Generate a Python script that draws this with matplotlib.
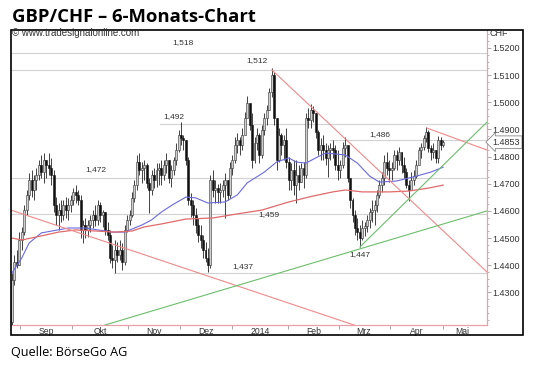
import matplotlib
matplotlib.use("Agg")
import matplotlib.pyplot as plt
import matplotlib.transforms as mtransforms
from matplotlib.patches import Rectangle
from matplotlib.ticker import MultipleLocator

# daily bars GBP/CHF (bar index = trading day)
first_open = 1.4190
high = [
    1.4372, 1.4438, 1.4456, 1.4522, 1.4541, 1.4622, 1.4677, 1.4740, 1.4751, 1.4732,
    1.4758, 1.4787, 1.4806, 1.4813, 1.4787, 1.4813, 1.4795, 1.4751, 1.4651, 1.4629,
    1.4640, 1.4640, 1.4651, 1.4648, 1.4659, 1.4684, 1.4695, 1.4677, 1.4659, 1.4567,
    1.4574, 1.4567, 1.4585, 1.4603, 1.4622, 1.4640, 1.4633, 1.4603, 1.4596, 1.4559,
    1.4530, 1.4475, 1.4493, 1.4486, 1.4493, 1.4482, 1.4548, 1.4585, 1.4603, 1.4670,
    1.4714, 1.4806, 1.4813, 1.4780, 1.4787, 1.4776, 1.4721, 1.4751, 1.4758, 1.4776,
    1.4776, 1.4787, 1.4787, 1.4813, 1.4776, 1.4769, 1.4798, 1.4850, 1.4898, 1.4927,
    1.4879, 1.4861, 1.4798, 1.4666, 1.4640, 1.4611, 1.4574, 1.4548, 1.4511, 1.4486,
    1.4464, 1.4732, 1.4751, 1.4714, 1.4699, 1.4703, 1.4714, 1.4740, 1.4714, 1.4780,
    1.4806, 1.4872, 1.4887, 1.4872, 1.4905, 1.4964, 1.5023, 1.4997, 1.4960, 1.4872,
    1.4905, 1.4887, 1.4916, 1.4960, 1.4990, 1.5052, 1.5126, 1.5111, 1.4942, 1.4905,
    1.4887, 1.4879, 1.4905, 1.4798, 1.4776, 1.4787, 1.4787, 1.4769, 1.4776, 1.4780,
    1.4960, 1.4979, 1.4993, 1.4986, 1.4946, 1.4898, 1.4868, 1.4879, 1.4850, 1.4843,
    1.4850, 1.4861, 1.4843, 1.4824, 1.4787, 1.4854, 1.4872, 1.4843, 1.4721, 1.4648,
    1.4603, 1.4574, 1.4548, 1.4567, 1.4559, 1.4585, 1.4611, 1.4640, 1.4640, 1.4677,
    1.4714, 1.4743, 1.4806, 1.4817, 1.4787, 1.4780, 1.4824, 1.4824, 1.4835, 1.4806,
    1.4798, 1.4758, 1.4714, 1.4743, 1.4751, 1.4787, 1.4835, 1.4850, 1.4879, 1.4909,
    1.4898, 1.4843, 1.4850, 1.4824, 1.4876, 1.4872, 1.4861]
low = [
    1.4180, 1.4327, 1.4390, 1.4412, 1.4456, 1.4511, 1.4585, 1.4640, 1.4651, 1.4640,
    1.4677, 1.4714, 1.4721, 1.4703, 1.4721, 1.4732, 1.4695, 1.4596, 1.4548, 1.4530,
    1.4559, 1.4567, 1.4574, 1.4567, 1.4596, 1.4622, 1.4629, 1.4622, 1.4500, 1.4482,
    1.4500, 1.4504, 1.4522, 1.4537, 1.4544, 1.4548, 1.4559, 1.4541, 1.4511, 1.4493,
    1.4408, 1.4390, 1.4372, 1.4412, 1.4419, 1.4383, 1.4401, 1.4522, 1.4548, 1.4578,
    1.4633, 1.4677, 1.4732, 1.4703, 1.4714, 1.4684, 1.4592, 1.4659, 1.4684, 1.4688,
    1.4695, 1.4695, 1.4714, 1.4740, 1.4703, 1.4688, 1.4732, 1.4769, 1.4817, 1.4843,
    1.4824, 1.4769, 1.4622, 1.4578, 1.4548, 1.4519, 1.4486, 1.4464, 1.4427, 1.4412,
    1.4375, 1.4390, 1.4651, 1.4629, 1.4629, 1.4629, 1.4651, 1.4574, 1.4640, 1.4648,
    1.4732, 1.4776, 1.4813, 1.4806, 1.4824, 1.4879, 1.4953, 1.4898, 1.4758, 1.4776,
    1.4824, 1.4776, 1.4795, 1.4879, 1.4916, 1.4971, 1.5019, 1.4916, 1.4751, 1.4780,
    1.4806, 1.4787, 1.4758, 1.4677, 1.4677, 1.4659, 1.4629, 1.4677, 1.4706, 1.4684,
    1.4721, 1.4905, 1.4905, 1.4927, 1.4868, 1.4806, 1.4787, 1.4787, 1.4769, 1.4725,
    1.4787, 1.4795, 1.4751, 1.4714, 1.4721, 1.4758, 1.4798, 1.4706, 1.4611, 1.4559,
    1.4511, 1.4493, 1.4467, 1.4493, 1.4508, 1.4522, 1.4537, 1.4559, 1.4548, 1.4596,
    1.4648, 1.4670, 1.4695, 1.4732, 1.4706, 1.4714, 1.4751, 1.4751, 1.4769, 1.4740,
    1.4721, 1.4684, 1.4636, 1.4677, 1.4695, 1.4721, 1.4769, 1.4795, 1.4824, 1.4854,
    1.4817, 1.4787, 1.4795, 1.4776, 1.4776, 1.4824, 1.4835]
close = [
    1.4346, 1.4412, 1.4401, 1.4493, 1.4522, 1.4603, 1.4659, 1.4714, 1.4677, 1.4714,
    1.4732, 1.4769, 1.4743, 1.4787, 1.4769, 1.4758, 1.4732, 1.4622, 1.4585, 1.4603,
    1.4585, 1.4622, 1.4603, 1.4622, 1.4640, 1.4670, 1.4659, 1.4640, 1.4530, 1.4548,
    1.4530, 1.4548, 1.4567, 1.4585, 1.4567, 1.4622, 1.4585, 1.4596, 1.4530, 1.4511,
    1.4427, 1.4419, 1.4456, 1.4438, 1.4456, 1.4412, 1.4530, 1.4567, 1.4585, 1.4648,
    1.4695, 1.4780, 1.4751, 1.4758, 1.4769, 1.4703, 1.4677, 1.4732, 1.4714, 1.4751,
    1.4758, 1.4732, 1.4769, 1.4787, 1.4721, 1.4751, 1.4787, 1.4824, 1.4879, 1.4868,
    1.4861, 1.4787, 1.4640, 1.4622, 1.4585, 1.4548, 1.4511, 1.4493, 1.4456, 1.4427,
    1.4401, 1.4714, 1.4677, 1.4684, 1.4670, 1.4677, 1.4695, 1.4714, 1.4659, 1.4758,
    1.4787, 1.4843, 1.4861, 1.4843, 1.4879, 1.4942, 1.4997, 1.4916, 1.4787, 1.4850,
    1.4879, 1.4806, 1.4898, 1.4942, 1.4971, 1.5038, 1.5100, 1.4942, 1.4787, 1.4879,
    1.4843, 1.4861, 1.4780, 1.4714, 1.4751, 1.4695, 1.4732, 1.4706, 1.4758, 1.4732,
    1.4942, 1.4935, 1.4971, 1.4960, 1.4890, 1.4824, 1.4843, 1.4824, 1.4795, 1.4824,
    1.4832, 1.4824, 1.4769, 1.4751, 1.4769, 1.4832, 1.4843, 1.4721, 1.4640, 1.4585,
    1.4537, 1.4522, 1.4500, 1.4537, 1.4544, 1.4567, 1.4596, 1.4603, 1.4622, 1.4659,
    1.4695, 1.4721, 1.4780, 1.4758, 1.4751, 1.4758, 1.4806, 1.4787, 1.4817, 1.4769,
    1.4743, 1.4695, 1.4677, 1.4714, 1.4728, 1.4769, 1.4824, 1.4835, 1.4868, 1.4890,
    1.4832, 1.4817, 1.4824, 1.4795, 1.4861, 1.4843, 1.4853]
assert len(high) == len(low) == len(close)

# moving averages (bar index, value)
ma_fast_idx = [0, 4, 7, 12, 23, 30, 41, 46, 53, 57, 61, 66, 71, 75, 80, 87, 92, 96, 103,
               108, 113, 116, 120, 124, 128, 136, 141, 146, 150, 157, 165, 171, 176]
ma_fast_val = [1.4372, 1.4427, 1.4482, 1.4519, 1.4537, 1.4537, 1.4522, 1.4522, 1.4548,
               1.4567, 1.4596, 1.4625, 1.4651, 1.4648, 1.4629, 1.4633, 1.4659, 1.4703,
               1.4743, 1.4780, 1.4795, 1.4780, 1.4776, 1.4795, 1.4813, 1.4806, 1.4776,
               1.4728, 1.4706, 1.4710, 1.4728, 1.4743, 1.4761]
ma_slow_idx = [0, 4, 12, 19, 26, 42, 49, 54, 61, 71, 82, 92, 102, 113, 123, 131, 136,
               143, 150, 154, 162, 170, 176]
ma_slow_val = [1.4500, 1.4493, 1.4508, 1.4522, 1.4530, 1.4522, 1.4526, 1.4541, 1.4552,
               1.4570, 1.4574, 1.4589, 1.4603, 1.4633, 1.4655, 1.4670, 1.4677, 1.4670,
               1.4670, 1.4670, 1.4673, 1.4684, 1.4695]

# trend lines: (x0, y0, x1, y1)
red_lines = [(-0.4, 1.4603, 139.6, 1.4180),
             (106.1, 1.5119, 193.9, 1.4375),
             (169.4, 1.4905, 193.9, 1.4824)]
green_lines = [(38.0, 1.4180, 193.9, 1.4600),
               (142.0, 1.4467, 193.9, 1.4927)]

# horizontal levels and their start index
levels = [1.518, 1.512, 1.492, 1.486, 1.472, 1.459, 1.437]
level_start = [-0.4, -0.4, 60.4, 129.8, -0.4, -0.4, 41.6]
level_labels = ["1,518", "1,512", "1,492", "1,486", "1,472", "1,459", "1,447", "1,437"]
label_x = [69.8, 100.0, 66.1, 150.2, 34.3, 104.9, 142.0, 94.3]
label_y = [1.5218, 1.5155, 1.4946, 1.4880, 1.4751, 1.4585, 1.4438, 1.4397]

month_ticks = [3.3, 24.5, 47.3, 68.6, 89.8, 112.7, 133.5, 154.3, 175.9]
month_pos = [13.9, 35.9, 58.0, 79.2, 101.2, 123.1, 143.7, 165.1, 184.0]
month_names = ["Sep", "Okt", "Nov", "Dez", "2014", "Feb", "Mrz", "Apr", "Mai"]
price_ticks = [1.52, 1.51, 1.50, 1.49, 1.48, 1.47, 1.46, 1.45, 1.44, 1.43]
last_price = 1.4853

W, H = 540, 365
fig = plt.figure(figsize=(W / 100, H / 100), dpi=100)
ax = fig.add_axes([11 / W, 40 / H, 476 / W, 295 / H])
ax.set_xlim(-0.4, 193.9)
ax.set_ylim(1.4180, 1.5266)

txt = "#333333"
small = dict(family="Liberation Sans", fontsize=6, color=txt)

for lv, xs in zip(levels, level_start):
    ax.plot([xs, 193.9], [lv, lv], color="#d2d2d2", lw=0.8, zorder=1)
for t, lx, ly in zip(level_labels, label_x, label_y):
    ax.text(lx, ly, t, ha="center", va="center", zorder=6, **small)

# candles
opens = [first_open] + close[:-1]
for i in range(len(close)):
    o, c = opens[i], close[i]
    ax.vlines(i, min(low[i], o, c), max(high[i], o, c), color="#222222", lw=0.6, zorder=3)
    down = c < o
    ax.bar(i, max(abs(c - o), 0.0003), bottom=min(o, c), width=0.8,
           color="#111111" if down else "#cfcfcf",
           edgecolor="#111111" if down else "#333333", linewidth=0.4, zorder=3)

ax.plot(ma_fast_idx, ma_fast_val, color="#6a6ae0", lw=0.8, zorder=4)
ax.plot(ma_slow_idx, ma_slow_val, color="#e06a6a", lw=0.9, zorder=4)
for x0, y0, x1, y1 in red_lines:
    ax.plot([x0, x1], [y0, y1], color="#f08a8a", lw=0.8, zorder=5)
for x0, y0, x1, y1 in green_lines:
    ax.plot([x0, x1], [y0, y1], color="#6cbf6c", lw=0.8, zorder=5)

# axes styling
for s in ["left", "top"]:
    ax.spines[s].set_visible(False)
for s in ["bottom", "right"]:
    ax.spines[s].set_color("#e8a0aa")
    ax.spines[s].set_linewidth(0.9)

ax.yaxis.tick_right()
ax.set_yticks(price_ticks)
ax.set_yticklabels(["%.4f" % p for p in price_ticks])
ax.yaxis.set_minor_locator(MultipleLocator(0.0025))
ax.tick_params(axis="y", which="major", length=3, width=0.6, color="#999999",
               pad=1.0, labelsize=6.5, labelcolor=txt)
ax.tick_params(axis="y", which="minor", length=1.5, width=0.5, color="#999999")
for lab in ax.get_yticklabels():
    lab.set_family("Liberation Sans")

ax.set_xticks(month_ticks)
ax.set_xticklabels([])
ax.set_xticks(month_pos, minor=True)
ax.set_xticklabels(month_names, minor=True)
ax.tick_params(axis="x", which="major", length=3, width=0.6, color="#999999")
ax.tick_params(axis="x", which="minor", length=0, pad=1.5, labelsize=6.2, labelcolor=txt)
for lab in ax.get_xticklabels(minor=True):
    lab.set_family("Liberation Sans")

# current price box
trans = mtransforms.blended_transform_factory(ax.transAxes, ax.transData)
ax.text(1.012, last_price, "%.4f" % last_price, transform=trans, ha="left", va="center",
        fontsize=6.5, family="Liberation Sans", color=txt, clip_on=False,
        bbox=dict(boxstyle="larrow,pad=0.2", fc="white", ec="#888888", lw=0.6))

# outer frame
fig.patches.append(Rectangle((10.5 / W, 30 / H), (523 - 10.5) / W, 305 / H,
                             transform=fig.transFigure, fill=False, ec="black", lw=1.2))

fig.text(12 / W, (H - 33) / H, "\u00a9 www.tradesignalonline.com", ha="left", va="center",
         family="Liberation Sans", fontsize=7, color=txt)
fig.text(489 / W, (H - 33) / H, "CHF", ha="left", va="center",
         family="Liberation Sans", fontsize=6.5, color=txt)
fig.text(12 / W, (H - 17) / H, "GBP/CHF \u2013 6-Monats-Chart", ha="left", va="center",
         family="Open Sans", fontweight="bold", fontsize=13.3, color="black")
fig.text(11 / W, (H - 352) / H, "Quelle: B\u00f6rseGo AG", ha="left", va="center",
         family="Open Sans", fontsize=9.1, color="black")

fig.savefig("out.png", dpi=100)
